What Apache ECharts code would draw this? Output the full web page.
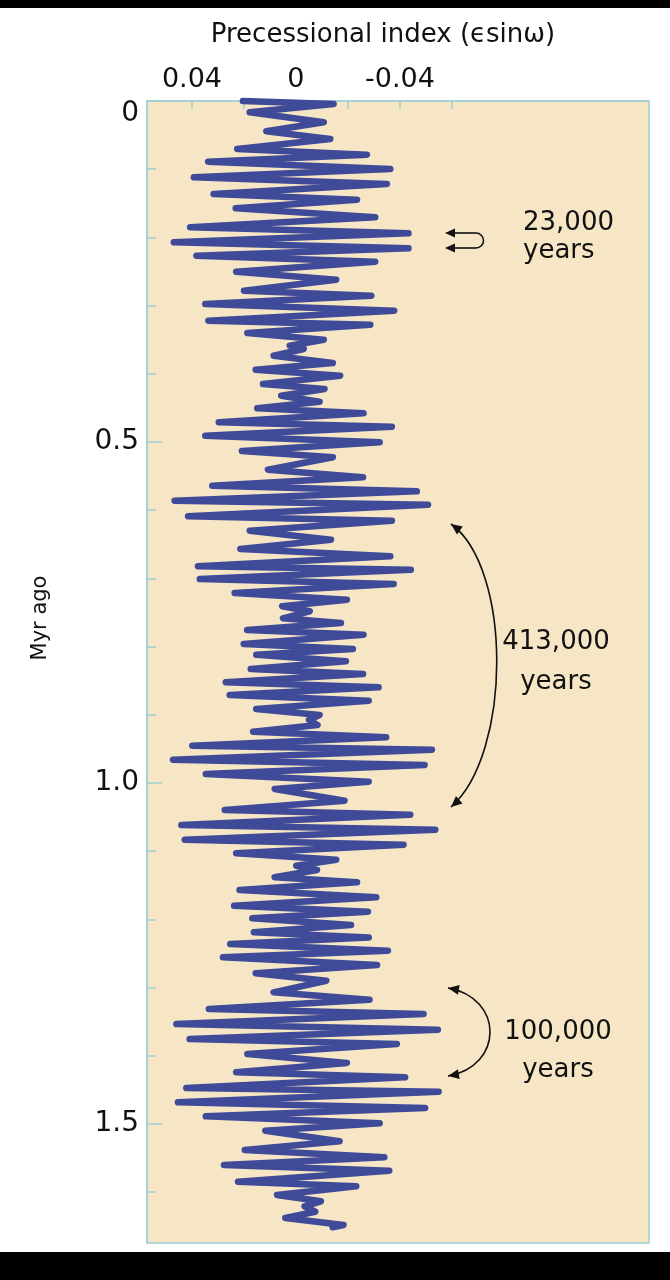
<!DOCTYPE html>
<html>
<head>
<meta charset="utf-8">
<script src="https://cdn.jsdelivr.net/npm/echarts@6/dist/echarts.min.js"></script>
<style>
html,body{margin:0;padding:0;background:#000;}
#chart{position:absolute;left:0;top:8px;width:670px;height:1244px;background:#fff;}
</style>
</head>
<body>
<div id="chart"></div>
<script>
// Time before present (Myr) of each turning point of the curve
const timeMyr = [0.0000,0.0044,0.0166,0.0312,0.0444,0.0557,0.0704,0.0787,0.0890,0.0997,
0.1119,0.1217,0.1364,0.1447,0.1573,0.1705,0.1852,0.1940,0.2072,0.2160,
0.2268,0.2356,0.2503,0.2620,0.2782,0.2855,0.2977,0.3075,0.3221,0.3280,
0.3402,0.3500,0.3588,0.3636,0.3735,0.3842,0.3940,0.4028,0.4150,0.4223,
0.4321,0.4409,0.4506,0.4579,0.4711,0.4776,0.4908,0.5004,0.5132,0.5224,
0.5406,0.5518,0.5641,0.5723,0.5861,0.5919,0.6090,0.6154,0.6301,0.6433,
0.6569,0.6676,0.6823,0.6872,0.7009,0.7082,0.7214,0.7312,0.7409,0.7482,
0.7585,0.7654,0.7757,0.7825,0.7962,0.8035,0.8119,0.8216,0.8328,0.8402,
0.8523,0.8597,0.8710,0.8793,0.8915,0.9003,0.9076,0.9150,0.9248,0.9330,
0.9453,0.9512,0.9658,0.9736,0.9868,0.9981,1.0088,1.0260,1.0396,1.0465,
1.0616,1.0685,1.0831,1.0905,1.1031,1.1125,1.1213,1.1276,1.1383,1.1456,
1.1569,1.1676,1.1799,1.1887,1.1984,1.2082,1.2189,1.2266,1.2361,1.2459,
1.2556,1.2669,1.2790,1.2899,1.3069,1.3177,1.3314,1.3387,1.3534,1.3617,
1.3754,1.3827,1.3974,1.4106,1.4242,1.4315,1.4472,1.4526,1.4682,1.4765,
1.4887,1.4990,1.5098,1.5254,1.5381,1.5488,1.5601,1.5685,1.5846,1.5914,
1.6041,1.6134,1.6207,1.6286,1.6378,1.6481,1.6515];
// Precessional index (e sin w) at those points
const precIndex = [0.0204,-0.0145,0.0178,-0.0107,0.0114,-0.0132,0.0226,-0.0273,0.0338,-0.0363,
0.0393,-0.0350,0.0317,-0.0235,0.0232,-0.0305,0.0407,-0.0433,0.0470,-0.0433,
0.0383,-0.0305,0.0230,-0.0155,0.0200,-0.0290,0.0349,-0.0378,0.0337,-0.0286,
0.0187,-0.0107,0.0024,-0.0030,0.0086,-0.0142,0.0155,-0.0170,0.0127,-0.0110,
0.0057,-0.0091,0.0149,-0.0260,0.0297,-0.0369,0.0349,-0.0322,0.0208,-0.0142,
0.0108,-0.0258,0.0322,-0.0465,0.0467,-0.0508,0.0415,-0.0369,0.0178,-0.0135,
0.0214,-0.0363,0.0377,-0.0442,0.0370,-0.0376,0.0236,-0.0196,0.0053,-0.0053,
0.0050,-0.0173,0.0188,-0.0260,0.0201,-0.0219,0.0153,-0.0192,0.0174,-0.0258,
0.0270,-0.0318,0.0255,-0.0280,0.0153,-0.0091,-0.0050,-0.0083,0.0165,-0.0347,
0.0399,-0.0523,0.0473,-0.0495,0.0347,-0.0280,0.0082,-0.0187,0.0274,-0.0440,
0.0441,-0.0536,0.0428,-0.0414,0.0230,-0.0155,-0.0001,-0.0081,0.0082,-0.0235,
0.0217,-0.0309,0.0238,-0.0277,0.0168,-0.0212,0.0162,-0.0280,0.0253,-0.0354,
0.0281,-0.0312,0.0155,-0.0117,0.0086,-0.0283,0.0335,-0.0491,0.0460,-0.0546,
0.0409,-0.0388,0.0187,-0.0196,0.0230,-0.0420,0.0422,-0.0549,0.0454,-0.0497,
0.0347,-0.0322,0.0118,-0.0168,0.0197,-0.0340,0.0277,-0.0359,0.0223,-0.0232,
0.0073,-0.0096,-0.0033,-0.0074,0.0041,-0.0183,-0.0141];
// Axis ticks and labels
const indexTicks = [0.04, 0.02, 0, -0.02, -0.04, -0.06];
const indexLabels = [0.04, 0, -0.04];
const timeLabels = [0, 0.5, 1.0, 1.5];
const timeMinorTicks = [0.1,0.2,0.3,0.4,0.6,0.7,0.8,0.9,1.1,1.2,1.3,1.4,1.6];
const titleText = 'Precessional index (\u03F5sin\u03C9)';
const yTitle = 'Myr ago';
const notes = [['23,000', 'years'], ['413,000', 'years'], ['100,000', 'years']];

const FONT = 'DejaVu Sans';
const AX = '#9fd0d2';
const chart = echarts.init(document.getElementById('chart'), null, {renderer: 'canvas'});
const G = {left: 147, top: 93, width: 502, height: 1142};

function arrowHead(tip, from, size) {
  const dx = tip[0] - from[0], dy = tip[1] - from[1];
  const L = Math.sqrt(dx*dx + dy*dy); const ux = dx/L, uy = dy/L;
  const bx = tip[0] - ux*size, by = tip[1] - uy*size;
  const w = size*0.45;
  return {type: 'polygon', shape: {points: [tip, [bx - uy*w, by + ux*w], [bx + uy*w, by - ux*w]]},
    style: {fill: '#111'}, z: 10};
}
function curve(p1, c1, c2, p2) {
  return [{type: 'bezierCurve', shape: {x1: p1[0], y1: p1[1], cpx1: c1[0], cpy1: c1[1], cpx2: c2[0], cpy2: c2[1], x2: p2[0], y2: p2[1]},
    style: {stroke: '#111', lineWidth: 1.6, fill: null}, z: 10},
    arrowHead(p1, c1, 11), arrowHead(p2, c2, 11)];
}

const graphics = [
  {type: 'text', x: 383, y: 27, style: {text: titleText, font: '26px "' + FONT + '"', fill: '#111', align: 'center', verticalAlign: 'middle'}},
  {type: 'text', x: 41, y: 610, rotation: Math.PI/2, style: {text: yTitle, font: '21px "' + FONT + '"', fill: '#111', align: 'center', verticalAlign: 'middle'}},
  // 23,000 small loop arrow
  {type: 'line', shape: {x1: 450, y1: 225, x2: 476, y2: 225}, style: {stroke: '#111', lineWidth: 1.6}, z: 10},
  {type: 'line', shape: {x1: 450, y1: 240, x2: 476, y2: 240}, style: {stroke: '#111', lineWidth: 1.6}, z: 10},
  {type: 'arc', shape: {cx: 476, cy: 232.5, r: 7.5, startAngle: -Math.PI/2, endAngle: Math.PI/2, clockwise: true}, style: {stroke: '#111', lineWidth: 1.6, fill: null}, z: 10},
  arrowHead([445, 225], [470, 225], 10), arrowHead([445, 240], [470, 240], 10),
  ...curve([451, 516], [512, 560], [512, 745], [451, 799]),
  ...curve([448, 980], [504, 990], [504, 1058], [448, 1068]),
  {type: 'text', x: 523, y: 201, style: {text: notes[0][0] + '\n' + notes[0][1], font: '26px "' + FONT + '"', fill: '#111', align: 'left', lineHeight: 28}},
  {type: 'text', x: 556, y: 614, style: {text: notes[1][0] + '\n' + notes[1][1], font: '26px "' + FONT + '"', fill: '#111', align: 'center', lineHeight: 40}},
  {type: 'text', x: 558, y: 1005, style: {text: notes[2][0] + '\n' + notes[2][1], font: '26px "' + FONT + '"', fill: '#111', align: 'center', lineHeight: 38}}
];

const data = timeMyr.map((t, i) => [precIndex[i], t]);

chart.setOption({
  animation: false,
  backgroundColor: '#ffffff',
  grid: {left: G.left, top: G.top, width: G.width, height: G.height, show: true, backgroundColor: '#f6e6c6', borderColor: AX, borderWidth: 1.5},
  xAxis: {
    type: 'value', position: 'top', inverse: true, min: -0.1358, max: 0.0573,
    axisLine: {show: true, onZero: false, lineStyle: {color: AX, width: 1.5}},
    axisTick: {show: true, inside: true, length: 8, customValues: indexTicks, lineStyle: {color: AX, width: 1.5}},
    axisLabel: {customValues: indexLabels, margin: 8, color: '#111', fontFamily: FONT, fontSize: 27,
      formatter: v => v === 0 ? '0' : (Math.round(v*100)/100).toFixed(2)},
    splitLine: {show: false}
  },
  yAxis: [{
    type: 'value', inverse: true, min: 0, max: 1142/682,
    axisLine: {show: true, onZero: false, lineStyle: {color: AX, width: 1.5}},
    axisTick: {show: true, inside: true, length: 15, customValues: timeLabels, lineStyle: {color: AX, width: 1.5}},
    axisLabel: {customValues: timeLabels, margin: 8, color: '#111', fontFamily: FONT, fontSize: 28,
      formatter: v => v === 0 ? '{z|0}' : v.toFixed(1),
      rich: {z: {fontFamily: FONT, fontSize: 28, color: '#111', padding: [26, 0, 0, 0]}}},
    splitLine: {show: false}
  }, {
    type: 'value', inverse: true, min: 0, max: 1142/682, position: 'left', offset: 0,
    axisLine: {show: false, onZero: false},
    axisTick: {show: true, inside: true, length: 9, customValues: timeMinorTicks, lineStyle: {color: AX, width: 1.5}},
    axisLabel: {show: false}, splitLine: {show: false}
  }],
  series: [{
    type: 'line', data: data, showSymbol: false, symbol: 'none', smooth: false,
    lineStyle: {color: '#3f4b98', width: 6.5, cap: 'round', join: 'round'},
    z: 3, clip: false
  }],
  graphic: graphics
});
</script>
</body>
</html>
